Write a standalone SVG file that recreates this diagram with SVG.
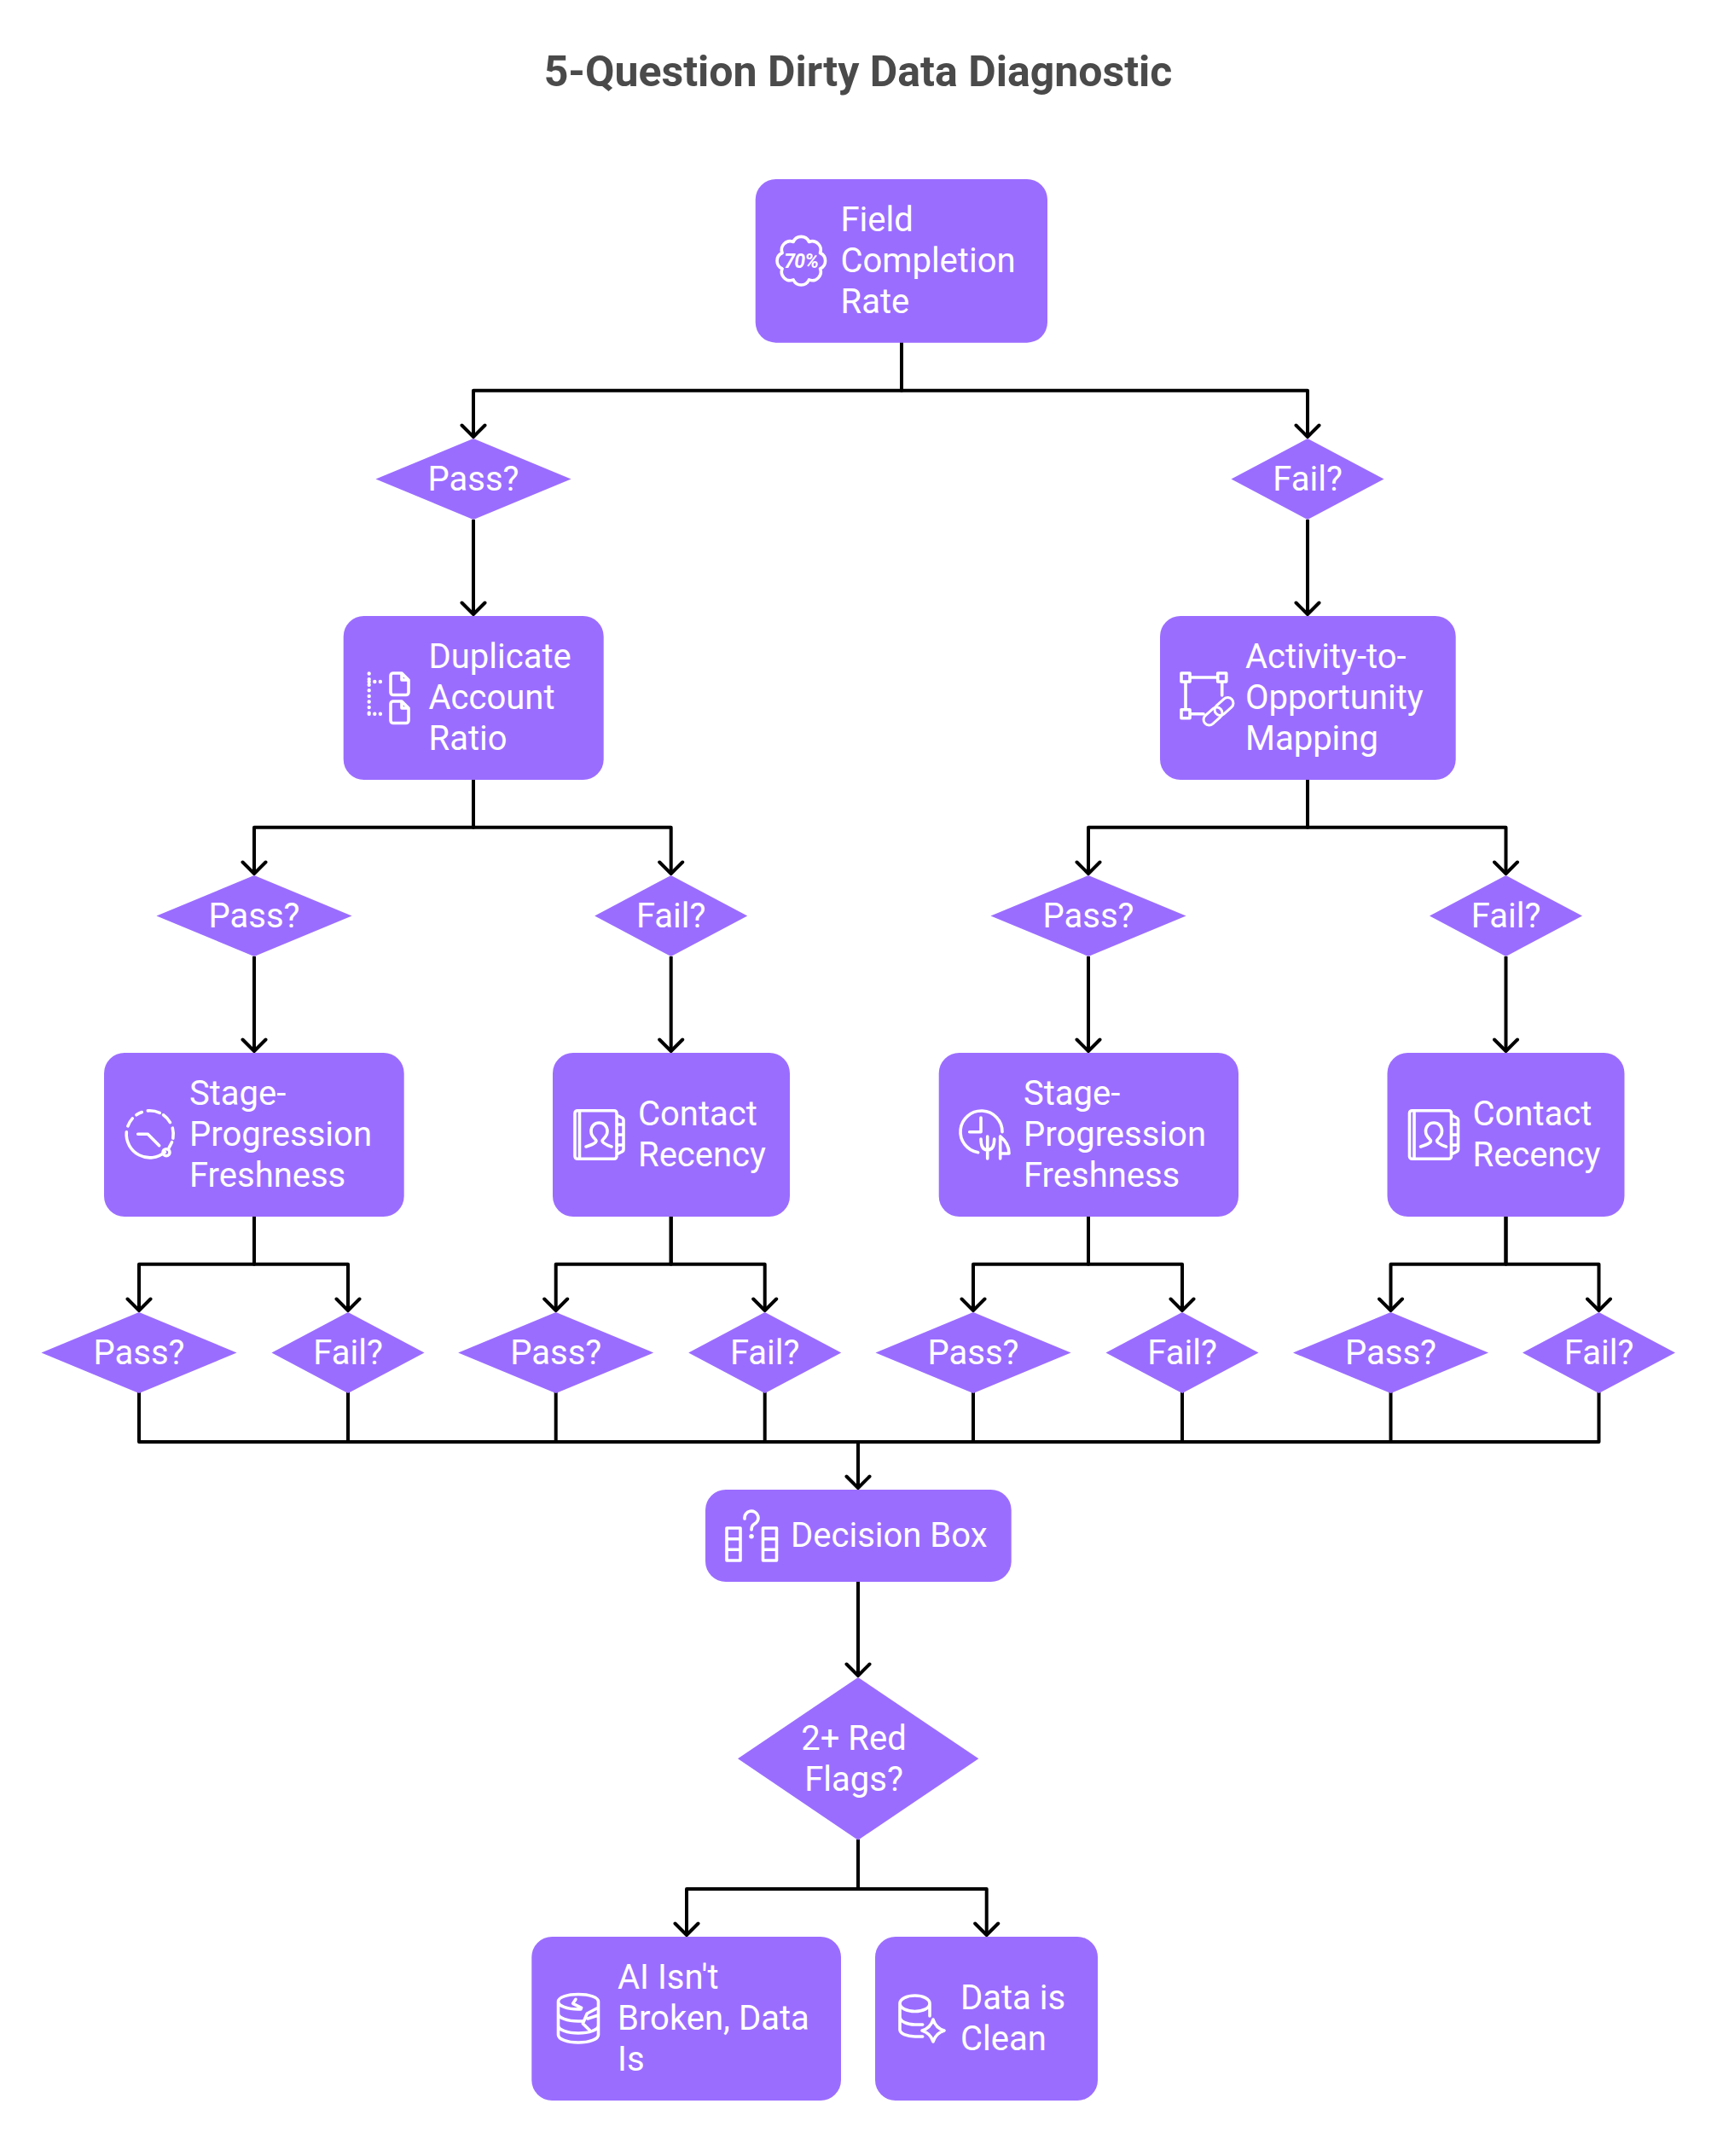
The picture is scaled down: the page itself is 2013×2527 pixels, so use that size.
<svg xmlns="http://www.w3.org/2000/svg" width="2013" height="2527" viewBox="0 0 2013 2527">
<style>
.n{fill:#9b6dff}
.t{font-family:Roboto,"Liberation Sans",sans-serif;font-size:40px;fill:#fff}
.m{text-anchor:middle}
.i{fill:none;stroke:#fff;stroke-width:3.6;stroke-linecap:round;stroke-linejoin:round}
.c{fill:none;stroke:#000;stroke-width:4;stroke-linejoin:round}
.a{marker-end:url(#arr)}
</style>
<defs>
<marker id="arr" markerUnits="userSpaceOnUse" viewBox="-16 -16 19 32" refX="0" refY="0" markerWidth="19" markerHeight="32" orient="auto"><path d="M-13.5 -13.5L0 0L-13.5 13.5" fill="none" stroke="#000" stroke-width="4" stroke-linecap="round" stroke-linejoin="round"/></marker>
<g id="book"><path class="i" d="M677 1301.7H720a3 3 0 0 1 3 3V1355.3a3 3 0 0 1-3 3H677a3 3 0 0 1-3-3V1304.7a3 3 0 0 1 3-3ZM679.5 1301.7V1358.3M723 1307L729 1310Q731 1311 731 1313V1347Q731 1349 729 1350L723 1353M723 1318H731M723 1330H731M723 1342H731M687 1344C693 1342 699 1340 699 1337C699 1335 693 1333 693 1326C693 1320 697 1316 702.5 1316C708 1316 712 1320 712 1326C712 1333 706 1335 706 1337C706 1340 711 1342 717 1344"/></g>
</defs>
<rect width="2013" height="2527" fill="#fff"/>
<text id="title" x="1006" y="101" text-anchor="middle" style="font-family:Roboto,'Liberation Sans',sans-serif;font-size:50px;font-weight:700;fill:#4a4a4a">5-Question Dirty Data Diagnostic</text>
<g id="connectors">
<path class="c a" d="M1057 401V457.7H555V512"/>
<path class="c a" d="M1057 401V457.7H1533V512"/>
<path class="c a" d="M555 609V720"/>
<path class="c a" d="M1533 609V720"/>
<path class="c a" d="M555 914V969.7H298V1024"/>
<path class="c a" d="M555 914V969.7H786.7V1024"/>
<path class="c a" d="M1533 914V969.7H1276V1024"/>
<path class="c a" d="M1533 914V969.7H1765.5V1024"/>
<path class="c a" d="M298 1121V1232"/>
<path class="c a" d="M786.7 1121V1232"/>
<path class="c a" d="M1276 1121V1232"/>
<path class="c a" d="M1765.5 1121V1232"/>
<path class="c a" d="M298 1426V1481.7H163V1536"/>
<path class="c a" d="M298 1426V1481.7H408V1536"/>
<path class="c a" d="M786.7 1426V1481.7H651.7V1536"/>
<path class="c a" d="M786.7 1426V1481.7H896.7V1536"/>
<path class="c a" d="M1276 1426V1481.7H1141V1536"/>
<path class="c a" d="M1276 1426V1481.7H1386V1536"/>
<path class="c a" d="M1765.5 1426V1481.7H1630.5V1536"/>
<path class="c a" d="M1765.5 1426V1481.7H1874.5V1536"/>
<path class="c" d="M163 1632V1690H1006"/>
<path class="c" d="M408 1632V1690H1006"/>
<path class="c" d="M651.7 1632V1690H1006"/>
<path class="c" d="M896.7 1632V1690H1006"/>
<path class="c" d="M1141 1632V1690H1006"/>
<path class="c" d="M1386 1632V1690H1006"/>
<path class="c" d="M1630.5 1632V1690H1006"/>
<path class="c" d="M1874.5 1632V1690H1006"/>
<path class="c a" d="M1006 1690V1744"/>
<path class="c a" d="M1006 1854V1964"/>
<path class="c a" d="M1006 2156V2214H805V2268"/>
<path class="c a" d="M1006 2156V2214H1156.7V2268"/>
</g>
<g id="n-field"><rect class="n" x="885.7" y="210" width="342.3" height="191.7" rx="24"/>
<path class="i" transform="translate(939.3,305.7)" d="M22.2 -9.2A10 10 0 0 1 22.2 9.2A10 10 0 0 1 9.2 22.2A10 10 0 0 1 -9.2 22.2A10 10 0 0 1 -22.2 9.2A10 10 0 0 1 -22.2 -9.2A10 10 0 0 1 -9.2 -22.2A10 10 0 0 1 9.2 -22.2A10 10 0 0 1 22.2 -9.2Z"/>
<text x="939.3" y="314" text-anchor="middle" style="font-family:Roboto,sans-serif;font-size:23px;font-weight:700;font-style:italic;letter-spacing:-.6px;fill:#fff">70%</text>
<text class="t" x="985.5" y="271.2">Field</text><text class="t" x="985.5" y="319.2">Completion</text><text class="t" x="985.5" y="367.2">Rate</text></g>
<g id="d-pass1"><path class="n" d="M555 514L669.5 561.5L555 609L440.5 561.5Z"/><text class="t m" x="555" y="575">Pass?</text></g>
<g id="d-fail1"><path class="n" d="M1533 514L1622.5 561.5L1533 609L1443.5 561.5Z"/><text class="t m" x="1533" y="575">Fail?</text></g>
<g id="n-dup"><rect class="n" x="402.7" y="722" width="305" height="192" rx="24"/>
<path class="i" style="stroke-width:4.4;stroke-dasharray:0 6.6" d="M432.7 789.5V836.7M432.7 799H451.7M432.7 836.7H451.7"/>
<path class="i" d="M461 789H471L479 797V811.5a3 3 0 0 1-3 3H461a3 3 0 0 1-3-3V792a3 3 0 0 1 3-3ZM471 789V797H479M461 822H471L479 830V844.5a3 3 0 0 1-3 3H461a3 3 0 0 1-3-3V825a3 3 0 0 1 3-3ZM471 822V830H479"/>
<text class="t" x="502.5" y="783.2">Duplicate</text><text class="t" x="502.5" y="831.2">Account</text><text class="t" x="502.5" y="879.2">Ratio</text></g>
<g id="n-act"><rect class="n" x="1360" y="722" width="346.7" height="192" rx="24"/>
<path class="i" d="M1385 789h10v10h-10zM1427.7 789h10v10h-10zM1385 831.7h10v10h-10zM1395 794H1427.7M1390 799V831.7M1432.7 799V815M1395 836.7H1411"/>
<rect class="i" style="stroke-width:3" x="1409.5" y="833" width="25" height="13" rx="6.5" transform="rotate(-42 1422 839.5)"/>
<rect class="i" style="stroke-width:3" x="1422.5" y="821.5" width="25" height="13" rx="6.5" transform="rotate(-42 1435 828)"/>
<text class="t" x="1460" y="783.2">Activity-to-</text><text class="t" x="1460" y="831.2">Opportunity</text><text class="t" x="1460" y="879.2">Mapping</text></g>
<g id="d-pass2"><path class="n" d="M298 1026L412.5 1073.5L298 1121L183.5 1073.5Z"/><text class="t m" x="298" y="1087">Pass?</text></g>
<g id="d-fail2"><path class="n" d="M786.7 1026L876.2 1073.5L786.7 1121L697.2 1073.5Z"/><text class="t m" x="786.7" y="1087">Fail?</text></g>
<g id="d-pass3"><path class="n" d="M1276 1026L1390.5 1073.5L1276 1121L1161.5 1073.5Z"/><text class="t m" x="1276" y="1087">Pass?</text></g>
<g id="d-fail3"><path class="n" d="M1765.5 1026L1855 1073.5L1765.5 1121L1676 1073.5Z"/><text class="t m" x="1765.5" y="1087">Fail?</text></g>
<g id="n-stage1"><rect class="n" x="122" y="1234" width="351.7" height="192" rx="24"/>
<g transform="translate(175.7,1329.3)"><path class="i" d="M17.7 21.1A27.5 27.5 0 0 1 -27.4 -2.4M-25.8 -9.4A27.5 27.5 0 0 1 -20.4 -18.4M-15.8 -22.5A27.5 27.5 0 0 1 -9.4 -25.8M-2.4 -27.4A27.5 27.5 0 0 1 11.6 -24.9M15.8 -22.5A27.5 27.5 0 0 1 23.8 -13.75M26.6 -7.1A27.5 27.5 0 0 1 27.1 4.8M25.8 9.4L22.5 15.8M-14 0H-2.4L11 13.4"/><circle class="i" cx="19.3" cy="21.4" r="4"/></g>
<text class="t" x="222" y="1295.2">Stage-</text><text class="t" x="222" y="1343.2">Progression</text><text class="t" x="222" y="1391.2">Freshness</text></g>
<g id="n-contact1"><rect class="n" x="648" y="1234" width="278" height="192" rx="24"/><use href="#book"/>
<text class="t" x="748" y="1319.2">Contact</text><text class="t" x="748" y="1367.2">Recency</text></g>
<g id="n-stage2"><rect class="n" x="1100.7" y="1234" width="351.3" height="192" rx="24"/>
<path class="i" d="M1175 1326.7A24.5 24.5 0 1 0 1146.7 1350.7M1150 1310V1326.7H1136.7M1157.7 1332V1358M1150 1335C1150 1344 1153 1348 1157.7 1348C1162.4 1348 1165.7 1344 1165.7 1335M1172.7 1332V1358M1172.7 1332C1179 1337 1183 1344 1183 1352H1172.7"/>
<text class="t" x="1200" y="1295.2">Stage-</text><text class="t" x="1200" y="1343.2">Progression</text><text class="t" x="1200" y="1391.2">Freshness</text></g>
<g id="n-contact2"><rect class="n" x="1626.5" y="1234" width="278" height="192" rx="24"/><use href="#book" x="978.5"/>
<text class="t" x="1726.5" y="1319.2">Contact</text><text class="t" x="1726.5" y="1367.2">Recency</text></g>
<g id="d-p1"><path class="n" d="M163 1538L277.5 1585.5L163 1633L48.5 1585.5Z"/><text class="t m" x="163" y="1599">Pass?</text></g>
<g id="d-f1"><path class="n" d="M408 1538L497.5 1585.5L408 1633L318.5 1585.5Z"/><text class="t m" x="408" y="1599">Fail?</text></g>
<g id="d-p2"><path class="n" d="M651.7 1538L766.2 1585.5L651.7 1633L537.2 1585.5Z"/><text class="t m" x="651.7" y="1599">Pass?</text></g>
<g id="d-f2"><path class="n" d="M896.7 1538L986.2 1585.5L896.7 1633L807.2 1585.5Z"/><text class="t m" x="896.7" y="1599">Fail?</text></g>
<g id="d-p3"><path class="n" d="M1141 1538L1255.5 1585.5L1141 1633L1026.5 1585.5Z"/><text class="t m" x="1141" y="1599">Pass?</text></g>
<g id="d-f3"><path class="n" d="M1386 1538L1475.5 1585.5L1386 1633L1296.5 1585.5Z"/><text class="t m" x="1386" y="1599">Fail?</text></g>
<g id="d-p4"><path class="n" d="M1630.5 1538L1745 1585.5L1630.5 1633L1516 1585.5Z"/><text class="t m" x="1630.5" y="1599">Pass?</text></g>
<g id="d-f4"><path class="n" d="M1874.5 1538L1964 1585.5L1874.5 1633L1785 1585.5Z"/><text class="t m" x="1874.5" y="1599">Fail?</text></g>
<g id="n-decision"><rect class="n" x="827" y="1746" width="358.7" height="108" rx="24"/>
<path class="i" d="M852 1791h16v38h-16zM852 1803.7h16M852 1816.3h16M894.5 1791h16v38h-16zM894.5 1803.7h16M894.5 1816.3h16M873 1780A8 8 0 1 1 884 1786.5C881.5 1788 881 1790 881 1793"/>
<circle cx="881" cy="1800.7" r="2.8" fill="#fff"/>
<text class="t" x="927" y="1813.2">Decision Box</text></g>
<g id="d-red"><path class="n" d="M1006 1966L1147.3 2061.3L1006 2156.7L865 2061.3Z"/><text class="t m" x="1001" y="2051">2+ Red</text><text class="t m" x="1001" y="2099">Flags?</text></g>
<g id="n-ai"><rect class="n" x="623.3" y="2270" width="362.7" height="192" rx="24"/>
<path class="i" d="M654.5 2346C654.5 2341 665 2337.5 678 2337.5C691 2337.5 701.5 2341 701.5 2346V2385C701.5 2390 691 2394 678 2394C665 2394 654.5 2390 654.5 2385ZM654.5 2346C654.5 2351 665 2355 678 2355H681M654.5 2360C654.5 2365 665 2369 678 2369H684M654.5 2374C654.5 2379 665 2383 678 2383C691 2383 701.5 2379 701.5 2374M701.5 2353L688.3 2360L683.3 2371.7L691.7 2380M701.5 2362L689 2366M675 2343.3L671.7 2348.3L681.7 2353.3"/>
<text class="t" x="724" y="2331">AI Isn't</text><text class="t" x="724" y="2379">Broken, Data</text><text class="t" x="724" y="2427">Is</text></g>
<g id="n-clean"><rect class="n" x="1026" y="2270" width="261" height="192" rx="24"/>
<path class="i" d="M1055 2348.3C1055 2343 1063 2339 1072.7 2339C1082.4 2339 1090 2343 1090 2348.3C1090 2353.6 1082.4 2357.5 1072.7 2357.5C1063 2357.5 1055 2353.6 1055 2348.3V2379C1055 2383.5 1063 2387 1072.7 2387H1081.7M1090 2348.3V2363M1055 2364C1055 2369 1063 2373 1072.7 2373H1081.7M1094 2367Q1097 2377 1107 2380Q1097 2383 1094 2393Q1091 2383 1081 2380Q1091 2377 1094 2367Z"/>
<text class="t" x="1126" y="2355.2">Data is</text><text class="t" x="1126" y="2403.2">Clean</text></g>
</svg>
